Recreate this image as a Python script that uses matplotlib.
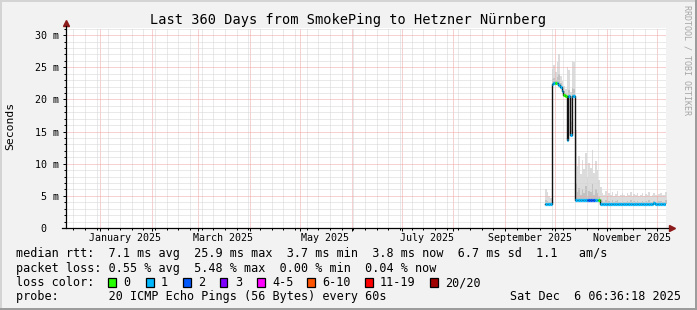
import datetime as dt
import matplotlib
matplotlib.use("Agg")
import matplotlib.pyplot as plt
import matplotlib.dates as mdates
from matplotlib.patches import Rectangle
from matplotlib.transforms import blended_transform_factory

W, H = 697, 310

title = "Last 360 Days from SmokePing to Hetzner Nürnberg"
t_start = dt.datetime(2024, 12, 11, 6, 36, 18)
t_end = dt.datetime(2025, 12, 6, 6, 36, 18)
first_day = dt.datetime(2025, 9, 25)

# daily median rtt (ms) from Sep 25 to Dec 6 2025
median_ms = [3.7, 3.7, 3.8, 3.8,
             22.4, 22.5, 22.5, 22.6, 22.3, 21.9, 21.3, 20.7, 20.5, 13.7, 20.5, 14.5, 20.6, 20.6,
             4.4, 4.4, 4.3, 4.3, 4.3, 4.3, 4.3, 4.3, 4.3, 4.3, 4.3, 4.3, 4.3, 4.3, 4.3,
             3.7, 3.7, 3.7, 3.7, 3.7, 3.7, 3.7, 3.7, 3.7, 3.7, 3.7, 3.7, 3.7, 3.7, 3.7, 3.7,
             3.7, 3.7, 3.7, 3.7, 3.7, 3.7, 3.7, 3.7, 3.7, 3.7, 3.7, 3.7, 3.7, 3.7, 3.7, 3.7,
             3.9, 3.7, 3.7, 3.7, 3.7, 3.7, 3.7, 3.7]
smoke_hi_ms = [6.1, 5.6, 4.9, 4.6,
               24.8, 25.4, 24.2, 25.8, 27.0, 23.6, 22.9, 22.1, 21.6, 25.0, 24.6, 21.2, 26.0, 25.8,
               15.2, 9.6, 11.2, 8.4, 10.6, 9.1, 11.6, 8.0, 10.1, 9.4, 12.1, 8.6, 10.4, 9.0, 7.4,
               6.4, 5.5, 5.2, 5.8, 5.0, 5.4, 5.1, 5.6, 5.0, 5.3, 5.7, 5.0, 5.2, 5.5, 5.1, 5.0,
               5.4, 5.2, 5.6, 5.0, 5.3, 5.1, 5.5, 5.0, 5.2, 5.4, 5.0, 5.3, 5.1, 5.6, 5.0, 5.2,
               5.5, 5.1, 5.0, 5.3, 5.4, 5.1, 5.2, 5.6]
smoke_mid_ms = [4.3, 4.2, 4.1, 4.0,
                23.2, 23.4, 23.0, 23.5, 24.0, 22.6, 22.0, 21.3, 21.0, 18.0, 21.5, 16.5, 21.8, 21.6,
                7.0, 5.6, 6.2, 5.2, 6.0, 5.4, 6.6, 5.0, 5.8, 5.6, 6.8, 5.2, 6.0, 5.5, 4.8,
                4.5, 4.2, 4.1, 4.3, 4.0, 4.2, 4.1, 4.3, 4.0, 4.2, 4.3, 4.0, 4.1, 4.2, 4.1, 4.0,
                4.2, 4.1, 4.3, 4.0, 4.2, 4.1, 4.2, 4.0, 4.1, 4.2, 4.0, 4.2, 4.1, 4.3, 4.0, 4.1,
                4.2, 4.1, 4.0, 4.2, 4.2, 4.1, 4.1, 4.3]
loss_code = [1, 1, 1, 1,
             1, 1, 0, 1, 1, 1, 1, 0, 0, 1, 1, 1, 1, 1,
             1, 1, 1, 1, 1, 1, 1, 2, 2, 2, 2, 2, 1, 1, 0,
             1, 1, 1, 1, 1, 1, 1, 1, 1, 1, 1, 1, 1, 1, 1, 1,
             1, 1, 1, 1, 1, 1, 1, 1, 1, 1, 1, 1, 1, 1, 1, 1,
             1, 1, 1, 1, 1, 1, 1, 1]

loss_labels = ["0", "1", "2", "3", "4-5", "6-10", "11-19", "20/20"]
loss_colors = ["#26ff00", "#00b8ff", "#0059ff", "#7e00ff", "#ff00ff", "#ff5500", "#ff0000", "#a10000"]
month_labels = ["January 2025", "March 2025", "May 2025", "July 2025", "September 2025", "November 2025"]
label_months = [1, 3, 5, 7, 9, 11]
ytick_vals = [0, 5, 10, 15, 20, 25, 30]
ytick_text = ["0  ", "5 m", "10 m", "15 m", "20 m", "25 m", "30 m"]

rtt_text = "median rtt:  7.1 ms avg  25.9 ms max  3.7 ms min  3.8 ms now  6.7 ms sd  1.1   am/s"
loss_text = "packet loss: 0.55 % avg  5.48 % max  0.00 % min  0.04 % now"
probe_text = "probe:       20 ICMP Echo Pings (56 Bytes) every 60s"
date_text = "Sat Dec  6 06:36:18 2025"
box_x = [108, 146, 183, 220, 257, 307, 365, 430]

plt.rcParams['font.family'] = ['DejaVu Sans Mono']

fig = plt.figure(figsize=(W / 100, H / 100), dpi=100)
fig.patch.set_facecolor('#f2f2f2')
ax = fig.add_axes([65.5 / W, (H - 228) / H, 600 / W, 200 / H])
ax.set_facecolor('white')

n = len(median_ms)
edges = mdates.date2num([first_day + dt.timedelta(days=i) for i in range(n + 1)])

# smoke
ax.fill_between(edges, median_ms + [median_ms[-1]], smoke_hi_ms + [smoke_hi_ms[-1]],
                step='post', color='#dcdcdc', lw=0, zorder=1)
ax.fill_between(edges, median_ms + [median_ms[-1]], smoke_mid_ms + [smoke_mid_ms[-1]],
                step='post', color='#c2c2c2', lw=0, zorder=1.1)
# median
ax.step(edges, median_ms + [median_ms[-1]], where='post', color='#111111', lw=1.0, zorder=3)
ax.hlines(median_ms, edges[:-1], edges[1:], colors=[loss_colors[c] for c in loss_code],
          lw=2.3, zorder=4)

ax.set_xlim(t_start, t_end)
ax.set_ylim(0, 31.1)

ax.xaxis.set_major_locator(mdates.MonthLocator())
ax.xaxis.set_minor_locator(mdates.WeekdayLocator(byweekday=mdates.MO))
ax.set_xticklabels([])
ax.set_yticks(ytick_vals)
ax.set_yticks(range(0, 32), minor=True)
ax.set_yticklabels(ytick_text, fontsize=7.2)
ax.tick_params(axis='both', which='major', length=2.2, width=0.72, pad=2.2, color='black')
ax.tick_params(axis='both', which='minor', length=1.4, width=0.72, color='black')

ax.set_axisbelow(False)
ax.grid(which='minor', color='#d4d4d4', lw=0.72, linestyle=(0, (1, 1)))
ax.grid(which='major', color='#f0a4a4', lw=0.72, linestyle=(0, (1, 1)))
for s in ax.spines.values():
    s.set_visible(False)

# axis lines with arrows
ax.plot([0, 0], [0, 1.012], transform=ax.transAxes, color='black', lw=0.9, clip_on=False, zorder=5)
ax.plot([-0.006, 1.005], [0, 0], transform=ax.transAxes, color='black', lw=0.9, clip_on=False, zorder=5)
ax.plot([0], [1.027], marker='^', ms=4.5, color='#8b1a1a', transform=ax.transAxes, clip_on=False)
ax.plot([1.011], [0], marker='>', ms=4.5, color='#8b1a1a', transform=ax.transAxes, clip_on=False)

trans = blended_transform_factory(ax.transData, ax.transAxes)
for m, lab in zip(label_months, month_labels):
    ax.text(mdates.date2num(dt.datetime(2025, m, 16)), -0.065, lab, transform=trans,
            ha='center', va='baseline', fontsize=7.2)

fig.text(347.5 / W, (H - 24) / H, title, ha='center', va='baseline', fontsize=9.8)
fig.text(10 / W, (H - 126) / H, "Seconds", rotation=90, ha='center', va='center', fontsize=8.2)
fig.text(687 / W, (H - 60) / H, "RRDTOOL / TOBI OETIKER", rotation=270, ha='center',
         va='center', fontsize=6, color='#a6a6a6')

fs = 8.5
fig.text(16 / W, (H - 257.5) / H, rtt_text, fontsize=fs, va='baseline')
fig.text(16 / W, (H - 271.7) / H, loss_text, fontsize=fs, va='baseline')
fig.text(16 / W, (H - 286) / H, "loss color:", fontsize=fs, va='baseline')
for bx, lab, col in zip(box_x, loss_labels, loss_colors):
    fig.add_artist(Rectangle((bx / W, (H - 286.5) / H), 7.5 / W, 9 / H, transform=fig.transFigure,
                             facecolor=col, edgecolor='black', lw=0.9))
    fig.text((bx + 15) / W, (H - 286) / H, lab, fontsize=fs, va='baseline')
fig.text(16 / W, (H - 300) / H, probe_text, fontsize=fs, va='baseline')
fig.text(681 / W, (H - 300) / H, date_text, fontsize=fs, va='baseline', ha='right')

# frame
fig.add_artist(Rectangle((0, 0), 2 / W, 1, transform=fig.transFigure, color='#d4d4d4', lw=0))
fig.add_artist(Rectangle((0, 1 - 2 / H), 1, 2 / H, transform=fig.transFigure, color='#d4d4d4', lw=0))
fig.add_artist(Rectangle((1 - 2 / W, 0), 2 / W, 1, transform=fig.transFigure, color='#9c9c9c', lw=0))
fig.add_artist(Rectangle((0, 0), 1, 2 / H, transform=fig.transFigure, color='#9c9c9c', lw=0))

fig.savefig("out.png", dpi=100, facecolor=fig.get_facecolor())
